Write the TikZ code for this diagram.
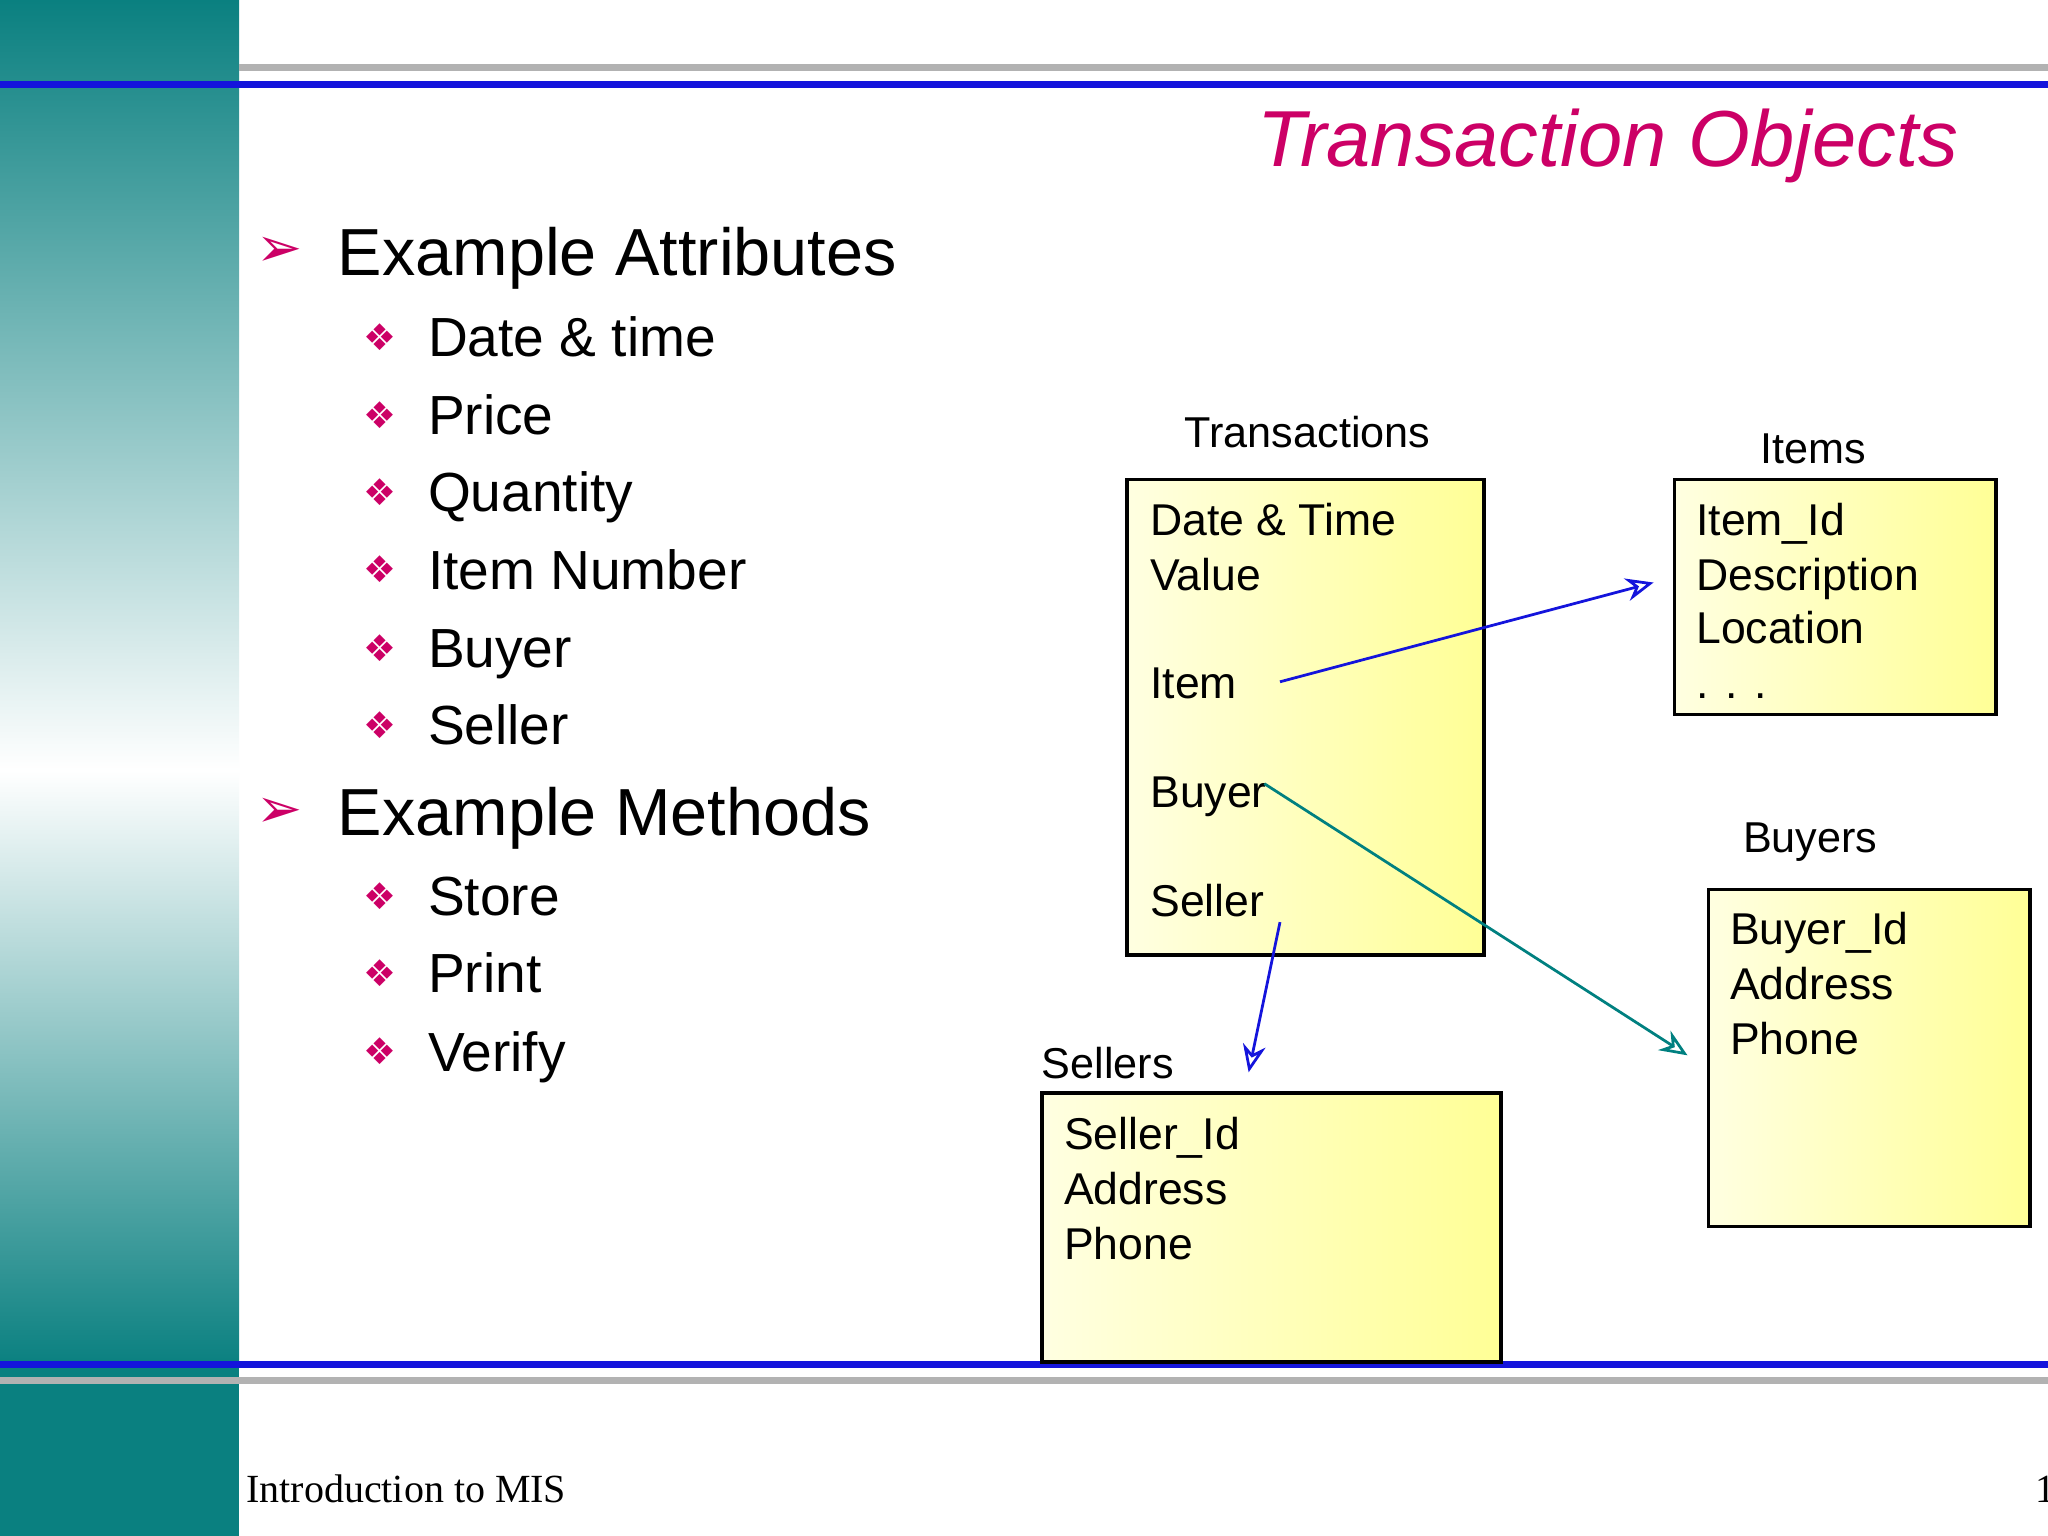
\documentclass[tikz,border=0pt]{standalone}
\usepackage{fontspec}
\setmainfont{Liberation Sans}
\newfontfamily\serifft{Liberation Serif}
\newfontfamily\symft{DejaVu Sans}
\usetikzlibrary{arrows.meta}
\definecolor{teal1}{RGB}{10,128,128}
\definecolor{mag}{RGB}{204,0,102}
\definecolor{ylo}{RGB}{255,255,150}
\definecolor{ylolt}{RGB}{255,255,225}
\definecolor{lineblue}{RGB}{20,20,220}
\definecolor{arrteal}{RGB}{0,128,128}
\tikzset{
 ybox/.style={draw=black,line width=0.8pt,shade,shading angle=135,left color=ylolt,right color=ylo},
 boxtxt/.style={anchor=base west,inner sep=0pt,font=\fontsize{9.7pt}{11pt}\selectfont},
 lbl/.style={inner sep=0pt,font=\fontsize{9.4pt}{11pt}\selectfont},
 head/.style={anchor=base west,inner sep=0pt,font=\fontsize{14.5pt}{16pt}\selectfont},
 sub/.style={anchor=base west,inner sep=0pt,font=\fontsize{12pt}{13pt}\selectfont},
 bul/.style={anchor=center,inner sep=0pt,text=mag,font=\symft\fontsize{12pt}{12pt}\selectfont},
 sbul/.style={anchor=center,inner sep=0pt,text=mag,font=\symft\fontsize{8pt}{9pt}\selectfont},
 conn/.style={-{Stealth[length=6pt,width=5pt,open]},line width=0.6pt}
}
\begin{document}
\begin{tikzpicture}[x=0.01cm,y=-0.01cm]
\useasboundingbox (0,0) rectangle (1568,1176);
\fill[white] (0,0) rectangle (1568,1176);
% left band
\shade[top color=teal1,bottom color=white] (0,0) rectangle (183,590);
\shade[top color=white,bottom color=teal1] (0,590) rectangle (183,1045);
\fill[teal1] (0,1045) rectangle (183,1176);
% rules
\draw[gray!60,line width=1.5pt] (183,52) -- (1568,52);
\draw[lineblue,line width=1.5pt] (0,65) -- (1568,65);
\draw[lineblue,line width=1.5pt] (0,1045) -- (1568,1045);
\draw[gray!60,line width=1.5pt] (0,1057) -- (1568,1057);
% title
\node[anchor=east,inner sep=0pt,text=mag,font=\itshape\fontsize{17.3pt}{20pt}\selectfont] (title) at (1500,112) {Transaction Objects};
% bullets
\node[bul] (b1) at (214,193) {➢};
\node[head] (h1) at (258,211) {Example Attributes};
\foreach \t/\y [count=\i] in {Date \& time/258,Price/318,Quantity/377,Item Number/436,Buyer/496,Seller/555}{
 \node[sbul] (sa\i) at (291,\y) {❖};
 \node[sub] (ta\i) at (327,\y+15) {\t};
}
\node[bul] (b2) at (214,622) {➢};
\node[head] (h2) at (258,640) {Example Methods};
\foreach \t/\y [count=\i] in {Store/686,Print/745,Verify/805}{
 \node[sbul] (sm\i) at (291,\y) {❖};
 \node[sub] (tm\i) at (327,\y+15) {\t};
}
% boxes
\draw[ybox] (863,367) rectangle (1136,731);
\node[lbl] (lt) at (1001,331) {Transactions};
\node[boxtxt] (t1) at (880,410) {Date \& Time};
\node[boxtxt] (t2) at (880,452) {Value};
\node[boxtxt] (t3) at (880,535) {Item};
\node[boxtxt] (t4) at (880,618) {Buyer};
\node[boxtxt] (t5) at (880,702) {Seller};

\draw[ybox] (1282,367) rectangle (1528,547);
\node[lbl] (li) at (1388,344) {Items};
\node[boxtxt] (i1) at (1298,410) {Item\_Id};
\node[boxtxt] (i2) at (1298,452) {Description};
\node[boxtxt] (i3) at (1298,493) {Location};
\node[boxtxt] (i4) at (1298,535) {. . .};

\draw[ybox] (1308,681) rectangle (1554,939);
\node[lbl] (lb) at (1386,645) {Buyers};
\node[boxtxt] (u1) at (1324,723) {Buyer\_Id};
\node[boxtxt] (u2) at (1324,765) {Address};
\node[boxtxt] (u3) at (1324,807) {Phone};

\draw[ybox] (798,837) rectangle (1149,1043);
\node[lbl,anchor=west] (ls) at (797,814) {Sellers};
\node[boxtxt] (s1) at (814,880) {Seller\_Id};
\node[boxtxt] (s2) at (814,922) {Address};
\node[boxtxt] (s3) at (814,964) {Phone};
% connectors
\coordinate (ia) at (980,522); \coordinate (ib) at (1266,446);
\coordinate (ba) at (968,600); \coordinate (bb) at (1292,808);
\coordinate (sa) at (980,706); \coordinate (sb) at (956,821);
\draw[conn,lineblue] (ia) -- (ib);
\draw[conn,arrteal] (ba) -- (bb);
\draw[conn,lineblue] (sa) -- (sb);
% footer
\node[anchor=west,inner sep=0pt,font=\serifft\fontsize{8.7pt}{10pt}\selectfont] (foot) at (188,1140) {Introduction to MIS};
\node[anchor=west,inner sep=0pt,font=\serifft\fontsize{8.7pt}{10pt}\selectfont] (pg) at (1558,1140) {1};
\end{tikzpicture}
\end{document}
